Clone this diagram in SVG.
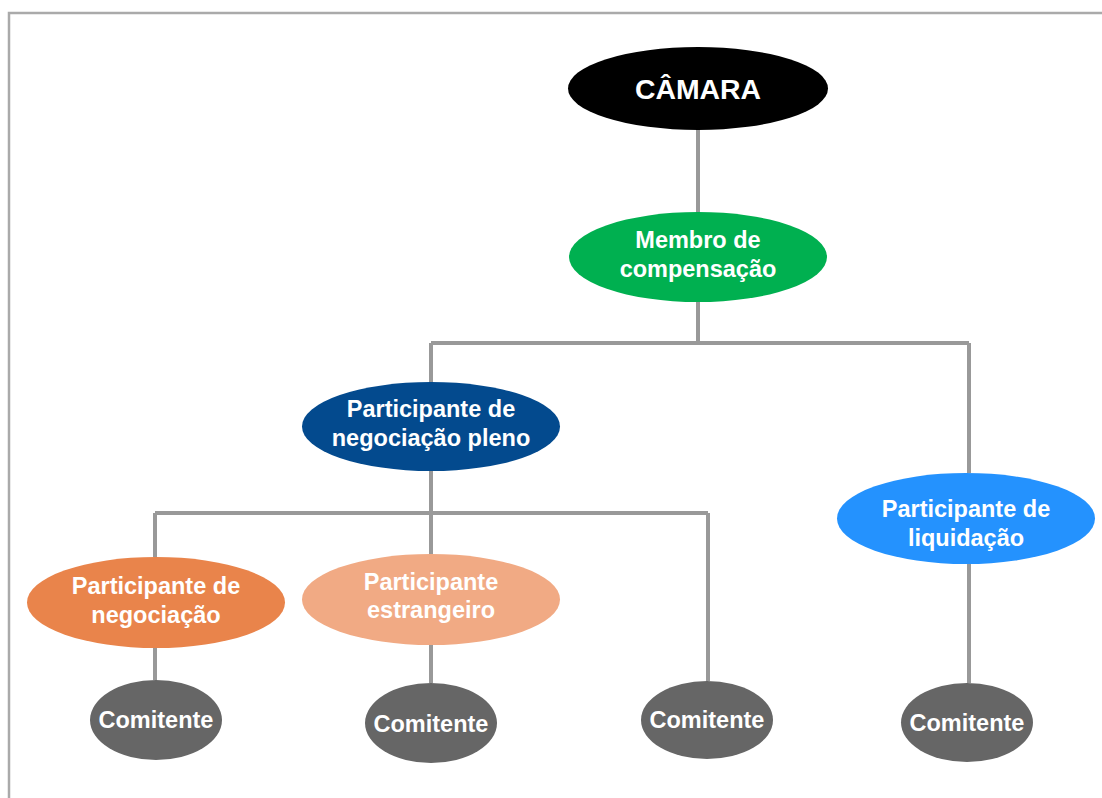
<svg xmlns="http://www.w3.org/2000/svg" width="1102" height="798" viewBox="0 0 1102 798">
<style>
.t{font-family:"Liberation Sans",Arial,sans-serif;font-weight:bold;fill:#fff;text-anchor:middle;font-size:23.5px}
.big{font-size:28.4px}
.c{stroke:#999;stroke-width:4;fill:none}
.com{fill:#666}
</style>
<rect width="1102" height="798" fill="#fff"/>
<path d="M9,800 V13 H1104" fill="none" stroke="#aaa" stroke-width="2.5"/>
<g id="connectors" class="c">
<path d="M698,130 V212"/>
<path d="M698,302 V343"/>
<path d="M431,343 H969"/>
<path d="M431,343 V382"/>
<path d="M969,343 V473"/>
<path d="M431,471 V554"/>
<path d="M155,513 H708"/>
<path d="M155,513 V557"/>
<path d="M708,513 V681"/>
<path d="M155,648 V680"/>
<path d="M431,645 V683"/>
<path d="M969,564 V683"/>
</g>
<g id="camara"><ellipse cx="698" cy="88.5" rx="130" ry="41.5" fill="#000"/><text class="t big" x="698" y="99">CÂMARA</text></g>
<g id="membro"><ellipse cx="698" cy="257" rx="129" ry="45" fill="#00b050"/><text class="t" x="698" y="248">Membro de</text><text class="t" x="698" y="277">compensação</text></g>
<g id="pn-pleno"><ellipse cx="431" cy="426.5" rx="129" ry="44.5" fill="#034a8e"/><text class="t" x="431" y="417">Participante de</text><text class="t" x="431" y="446">negociação pleno</text></g>
<g id="pn"><ellipse cx="156" cy="602.5" rx="129" ry="45.5" fill="#e9844b"/><text class="t" x="156" y="594">Participante de</text><text class="t" x="156" y="623">negociação</text></g>
<g id="pe"><ellipse cx="431" cy="599.5" rx="129" ry="45.5" fill="#f1aa84"/><text class="t" x="431" y="590">Participante</text><text class="t" x="431" y="618">estrangeiro</text></g>
<g id="pl"><ellipse cx="966" cy="518.5" rx="129" ry="45.5" fill="#2492fe"/><text class="t" x="966" y="517">Participante de</text><text class="t" x="966" y="546">liquidação</text></g>
<g id="com1"><ellipse class="com" cx="156" cy="720" rx="66" ry="40"/><text class="t" x="156" y="728">Comitente</text></g>
<g id="com2"><ellipse class="com" cx="431" cy="723" rx="66" ry="40"/><text class="t" x="431" y="732">Comitente</text></g>
<g id="com3"><ellipse class="com" cx="707" cy="720" rx="66" ry="39"/><text class="t" x="707" y="728">Comitente</text></g>
<g id="com4"><ellipse class="com" cx="967" cy="722.5" rx="66" ry="39.5"/><text class="t" x="967" y="731">Comitente</text></g>
</svg>
